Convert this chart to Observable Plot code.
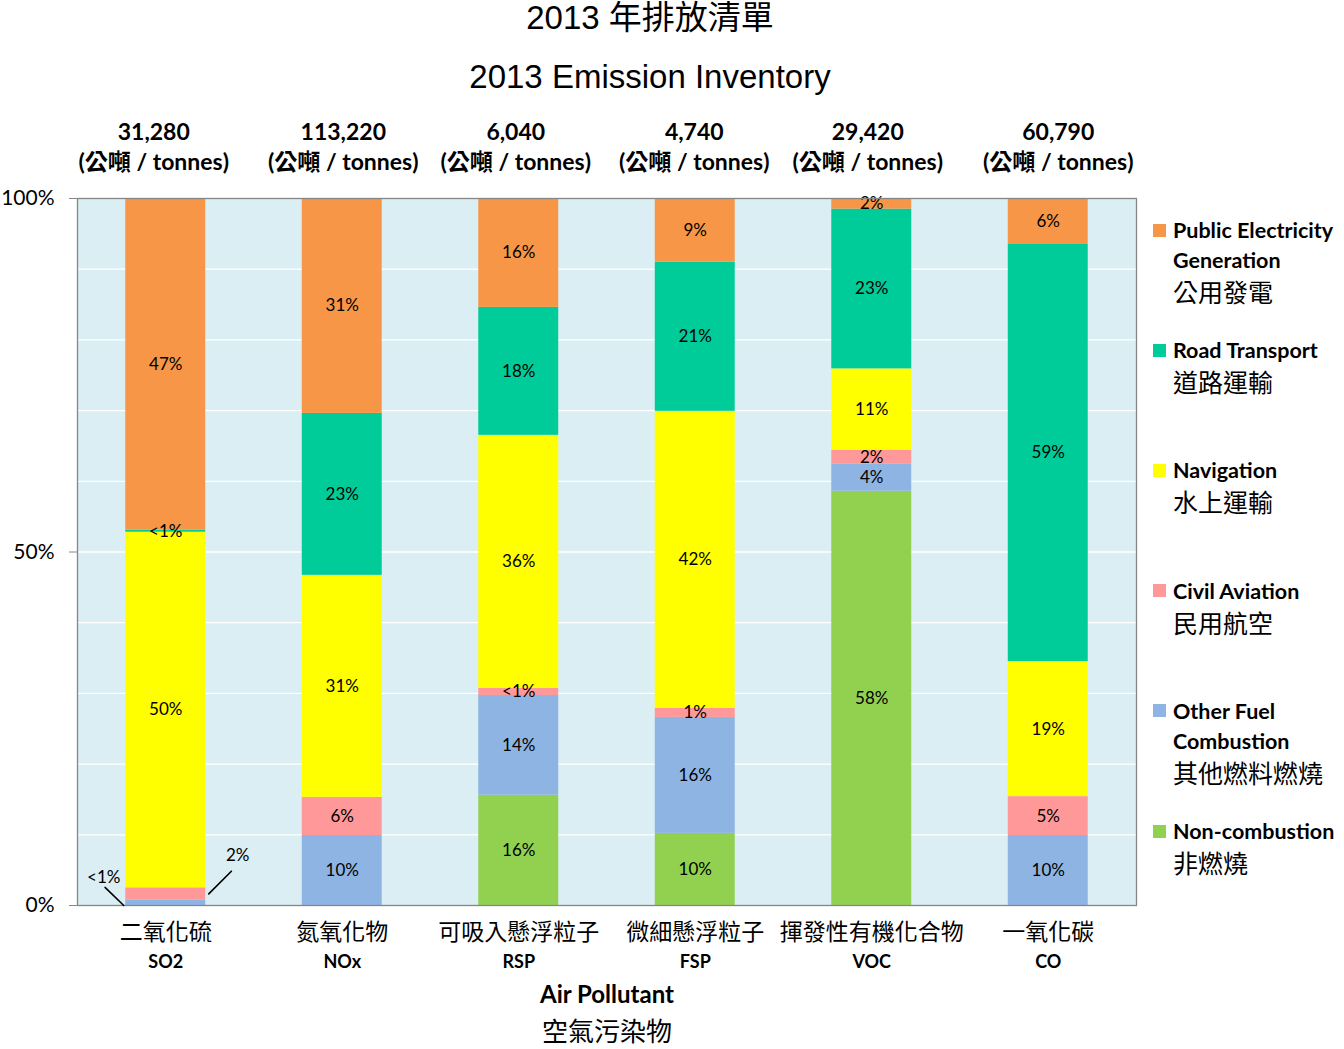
<!DOCTYPE html>
<html>
<head>
<meta charset="utf-8">
<script src="https://cdn.jsdelivr.net/npm/d3@7"></script>
<script src="https://cdn.jsdelivr.net/npm/@observablehq/plot@0.6"></script>
<style>
  body { margin: 0; background: #fff; }
  #wrap { position: relative; width: 1344px; height: 1049px; overflow: hidden; background: #fff; }
  #chart { position: absolute; left: 0; top: 0; }
  .title { position: absolute; left: 0; width: 1300px; text-align: center; font-family: 'Liberation Sans', Arial, 'Noto Sans CJK TC', sans-serif; color: #000; white-space: nowrap; }
  .leg { position: absolute; left: 1173px; font-family: Lato, 'Noto Sans CJK TC', sans-serif; color: #000; white-space: nowrap; }
  .leg .en { font-weight: bold; font-size: 21.5px; line-height: 30px; }
  .leg .zh { font-family: 'Noto Sans CJK TC', sans-serif; font-size: 25px; line-height: 32px; }
  .sw { position: absolute; left: 1153px; width: 13px; height: 13px; }
</style>
</head>
<body>
<div id="wrap">
  <div id="chart"></div>
</div>
<script>
// ---------- data ----------
const categoriesZh = ["二氧化硫", "氮氧化物", "可吸入懸浮粒子", "微細懸浮粒子", "揮發性有機化合物", "一氧化碳"];
const codes = ["SO2", "NOx", "RSP", "FSP", "VOC", "CO"];
const tonnes = ["31,280", "113,220", "6,040", "4,740", "29,420", "60,790"];
const tonnesUnit = "(公噸 / tonnes)";

// sources, bottom to top of each stack
const sources = ["Non-combustion", "Other Fuel Combustion", "Civil Aviation", "Navigation", "Road Transport", "Public Electricity Generation"];
const sourceColors = ["#92D050", "#8EB4E3", "#FF9999", "#FFFF00", "#00CC99", "#F79646"];

// percentage shares per pollutant (SO2, NOx, RSP, FSP, VOC, CO)
const nonCombustion     = [0,    0,    15.6, 10.2, 58.6, 0];
const otherFuel         = [0.8,  9.9,  14.1, 16.4, 3.8,  9.9];
const civilAviation     = [1.7,  5.4,  1.0,  1.3,  2.0,  5.5];
const navigation        = [50.3, 31.4, 35.8, 42.0, 11.5, 19.1];
const roadTransport     = [0.3,  22.9, 18.1, 21.1, 22.6, 59.0];
const publicElectricity = [46.9, 30.4, 15.4, 9.0,  1.5,  6.5];

// printed labels
const nonCombustionLbl     = ["", "", "16%", "10%", "58%", ""];
const otherFuelLbl         = ["", "10%", "14%", "16%", "4%", "10%"];
const civilAviationLbl     = ["", "6%", "<1%", "1%", "2%", "5%"];
const navigationLbl        = ["50%", "31%", "36%", "42%", "11%", "19%"];
const roadTransportLbl     = ["<1%", "23%", "18%", "21%", "23%", "59%"];
const publicElectricityLbl = ["47%", "31%", "16%", "9%", "2%", "6%"];
// SO2 small segments labelled outside the bar
const so2OutsideLbl = ["<1%", "2%"];

const yTicks = [0, 50, 100];
const gridLevels = [10, 20, 30, 40, 50, 60, 70, 80, 90];

const legendEn = [["Public Electricity", "Generation"], ["Road Transport"], ["Navigation"], ["Civil Aviation"], ["Other Fuel", "Combustion"], ["Non-combustion"]];
const legendZh = ["公用發電", "道路運輸", "水上運輸", "民用航空", "其他燃料燃燒", "非燃燒"];
const legendColors = ["#F79646", "#00CC99", "#FFFF00", "#FF9999", "#8EB4E3", "#92D050"];

// horizontal nudges (px) of the tonnage text boxes (styling only)
const tonnesNudge = [-12, 1, -3, -1, -4, 10];

// ---------- build table ----------
const series = [nonCombustion, otherFuel, civilAviation, navigation, roadTransport, publicElectricity];
const seriesLbl = [nonCombustionLbl, otherFuelLbl, civilAviationLbl, navigationLbl, roadTransportLbl, publicElectricityLbl];
const table = [];
codes.forEach((c, i) => {
  sources.forEach((s, j) => {
    table.push({code: c, source: s, value: series[j][i], label: seriesLbl[j][i]});
  });
});
const catTable = codes.map((c, i) => ({code: c, zh: categoriesZh[i], tonnes: tonnes[i]}));
const so2Notes = [
  {code: "SO2", y: 0, text: so2OutsideLbl[0]},
  {code: "SO2", y: otherFuel[0] + civilAviation[0] / 2, text: so2OutsideLbl[1]}
];

const FONT = "Lato, 'Noto Sans CJK TC', sans-serif";
const lineShape = { draw(context, l) { context.moveTo(0, 0); context.lineTo(0, -l); } };

const tonnesMarks = catTable.flatMap((d, i) => [
  Plot.text([d], {x: "code", frameAnchor: "top", dx: tonnesNudge[i], dy: -75, text: "tonnes", fontWeight: "bold", fontSize: 23}),
  Plot.text([d], {x: "code", frameAnchor: "top", dx: tonnesNudge[i], dy: -45, text: () => tonnesUnit, fontWeight: "bold", fontSize: 23})
]);

const chart = Plot.plot({
  width: 1344,
  height: 1049,
  marginLeft: 77,
  marginRight: 208,
  marginTop: 198,
  marginBottom: 144,
  style: {fontFamily: FONT, fontSize: "17px", color: "#000", background: "transparent", overflow: "visible"},
  x: {domain: codes, paddingInner: 0.547, paddingOuter: 0.2735, round: false, axis: null},
  y: {domain: [0, 100], axis: null},
  color: {domain: sources, range: sourceColors},
  marks: [
    Plot.frame({fill: "#DAEEF3"}),
    Plot.ruleY(gridLevels, {stroke: "#ffffff", strokeWidth: 1.3}),
    Plot.barY(table, Plot.stackY({x: "code", y: "value", fill: "source", order: sources})),
    Plot.text(table, Plot.stackY({x: "code", y: "value", z: "source", order: sources, text: "label", fill: "#000", fontSize: 17})),
    Plot.frame({stroke: "#868686", strokeWidth: 1.3}),
    Plot.axisY({ticks: yTicks, tickFormat: d => d + "%", tickSize: 8, tickPadding: 15, stroke: "#868686", fill: "#000", fontSize: 21, label: null}),
    // SO2 outside labels with leader lines
    Plot.text([so2Notes[0]], {x: "code", y: "y", text: "text", dx: -62, dy: -28, fontSize: 17}),
    Plot.text([so2Notes[1]], {x: "code", y: "y", text: "text", dx: 72, dy: -38, fontSize: 17}),
    Plot.vector([so2Notes[0]], {x: "code", y: "y", dx: -42, length: 26, rotate: -46, anchor: "start", shape: lineShape, stroke: "#000", strokeWidth: 1.6}),
    Plot.vector([so2Notes[1]], {x: "code", y: "y", dx: 43, length: 32, rotate: 45, anchor: "start", shape: lineShape, stroke: "#000", strokeWidth: 1.6}),
    // tonnes above bars
    ...tonnesMarks,
    // category labels
    Plot.text(catTable, {x: "code", frameAnchor: "bottom", dy: 34, text: "zh", fontFamily: "'Noto Sans CJK TC', sans-serif", fontSize: 23}),
    Plot.text(catTable, {x: "code", frameAnchor: "bottom", dy: 62, text: "code", fontWeight: "bold", fontSize: 18}),
    // axis title
    Plot.text(["Air Pollutant"], {frameAnchor: "bottom", dy: 97, text: d => d, fontWeight: "bold", fontSize: 24}),
    Plot.text(["空氣污染物"], {frameAnchor: "bottom", dy: 135, text: d => d, fontFamily: "'Noto Sans CJK TC', sans-serif", fontSize: 26})
  ]
});
document.getElementById("chart").appendChild(chart);

// titles
const wrap = document.getElementById("wrap");
const t1 = document.createElement("div");
t1.className = "title";
t1.style.top = "-2px"; t1.style.fontSize = "33px"; t1.style.lineHeight = "40px";
t1.textContent = "2013 年排放清單";
wrap.appendChild(t1);
const t2 = document.createElement("div");
t2.className = "title";
t2.style.top = "57px"; t2.style.fontSize = "33px"; t2.style.lineHeight = "40px";
t2.textContent = "2013 Emission Inventory";
wrap.appendChild(t2);

// legend
legendEn.forEach((en, i) => {
  const cy = 230 + i * 120.2;
  const sw = document.createElement("div");
  sw.className = "sw";
  sw.style.top = (cy - 6.5) + "px";
  sw.style.background = legendColors[i];
  wrap.appendChild(sw);
  const d = document.createElement("div");
  d.className = "leg";
  d.style.top = (cy - 15) + "px";
  en.forEach(line => {
    const e = document.createElement("div");
    e.className = "en";
    e.textContent = line;
    d.appendChild(e);
  });
  const z = document.createElement("div");
  z.className = "zh";
  z.textContent = legendZh[i];
  d.appendChild(z);
  wrap.appendChild(d);
});
</script>
</body>
</html>
